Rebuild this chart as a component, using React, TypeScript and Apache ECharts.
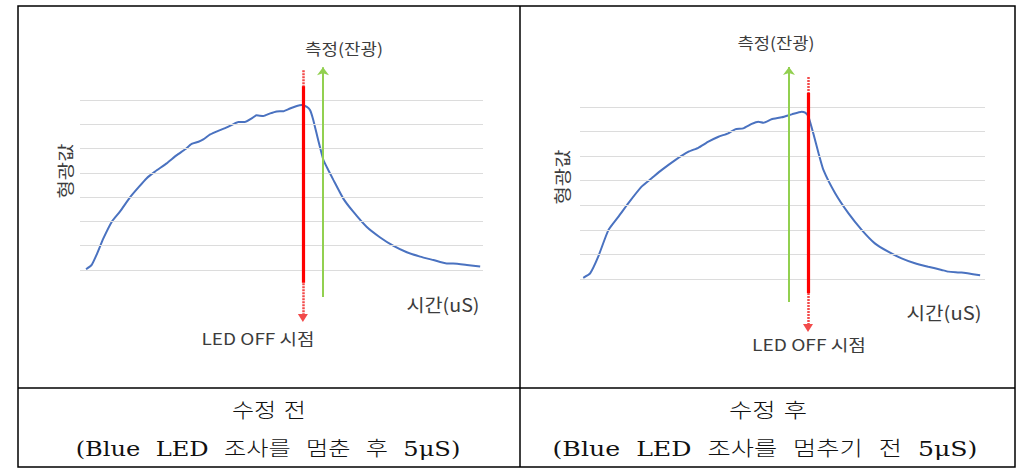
import React, { useEffect, useRef } from "react";
import * as echarts from "echarts";

// ---- data (time in arbitrary µs units 0..100, fluorescence in gridline units) ----
const beforeTime = [1.5, 2.9, 4.1, 5.8, 7.9, 9.9, 12.4, 14.5, 16.5, 18.6, 21.5, 24.0, 26.1, 27.7, 29.4, 30.6, 32.3, 34.3, 36.4, 38.1, 39.3, 40.9, 42.6, 43.8, 45.5, 47.2, 48.8, 50.5, 52.1, 53.8, 55.0, 56.3, 57.1, 57.9, 59.1, 60.4, 61.6, 62.9, 65.3, 67.8, 71.1, 74.4, 77.8, 81.1, 84.4, 87.7, 91.0, 92.6, 96.0, 99.3];
const beforeValue = [0.03, 0.21, 0.62, 1.3, 1.99, 2.4, 2.99, 3.4, 3.77, 4.05, 4.39, 4.73, 4.97, 5.19, 5.28, 5.38, 5.58, 5.73, 5.87, 6.01, 6.09, 6.09, 6.24, 6.37, 6.34, 6.45, 6.53, 6.54, 6.65, 6.75, 6.79, 6.72, 6.58, 6.17, 5.35, 4.53, 4.12, 3.7, 2.95, 2.4, 1.78, 1.35, 0.99, 0.73, 0.55, 0.41, 0.27, 0.27, 0.21, 0.14];

const afterTime = [0.8, 2.5, 4.5, 7.0, 9.5, 11.9, 15.2, 17.7, 20.2, 23.5, 26.8, 29.2, 31.7, 34.2, 36.6, 38.3, 40.3, 42.4, 44.0, 45.3, 47.3, 49.8, 52.3, 54.7, 55.6, 56.4, 57.6, 58.9, 60.1, 63.0, 66.3, 69.6, 72.8, 76.1, 79.4, 82.7, 86.0, 89.3, 91.0, 94.2, 98.8];
const afterValue = [0.05, 0.23, 0.91, 1.99, 2.54, 3.08, 3.76, 4.1, 4.44, 4.84, 5.18, 5.34, 5.59, 5.79, 5.93, 6.09, 6.13, 6.31, 6.4, 6.36, 6.5, 6.58, 6.7, 6.81, 6.77, 6.61, 5.93, 5.12, 4.44, 3.49, 2.67, 1.99, 1.45, 1.11, 0.84, 0.64, 0.5, 0.37, 0.3, 0.26, 0.15];

const gridValues = [0, 1, 2, 3, 4, 5, 6, 7];

// marker positions: [time, dottedTop, solidTop, solidBottom, arrowTip]
const beforeLedOff = [55.3, 8.23, 7.57, -0.53, -1.98];
const beforeMeasure = [60.3, -1.11, 8.35]; // [time, bottom, arrowTip]
const afterLedOff = [56.3, 8.22, 7.57, -0.57, -1.99];
const afterMeasure = [51.6, -0.94, 8.63];

const measureLabel = "측정(잔광)";
const ledOffLabel = "LED OFF 시점";
const xName = "시간(uS)";
const yName = "형광값";
const captionTitles = ["수정 전", "수정 후"];
const captionNotes = ["(Blue  LED  조사를  멈춘  후  5μS)", "(Blue  LED  조사를  멈추기  전  5μS)"];

const SANS = '"Noto Sans CJK KR", "Noto Sans", sans-serif';
const SERIF = '"DejaVu Serif", "Liberation Serif", "Noto Sans CJK KR", serif';
const TEXT = "#3c3c3c";

let measureCtx: CanvasRenderingContext2D | null = null;
function textWidth(text: string, font: string) {
  if (!measureCtx) measureCtx = document.createElement("canvas").getContext("2d");
  measureCtx!.font = font;
  return measureCtx!.measureText(text).width;
}

function seriesFor(idx: number, times: number[], values: number[], led: number[], meas: number[]) {
  const data = times.map((t, i) => [t, values[i]]);
  return [
    {
      type: "line",
      xAxisIndex: idx,
      yAxisIndex: idx,
      data: [],
      z: 1,
      silent: true,
      markLine: {
        silent: true,
        symbol: ["none", "none"],
        label: { show: false },
        lineStyle: { color: "#dcdcdc", width: 1, type: "solid" },
        data: gridValues.map((v) => ({ yAxis: v })),
      },
    },
    {
      type: "line",
      xAxisIndex: idx,
      yAxisIndex: idx,
      data,
      z: 3,
      showSymbol: false,
      symbol: "none",
      smooth: 0.15,
      lineStyle: { color: "#4a72c0", width: 2 },
    },
    {
      type: "line",
      xAxisIndex: idx,
      yAxisIndex: idx,
      data: [],
      z: 5,
      markLine: {
        silent: true,
        label: { show: false },
        z: 5,
        data: [
          [
            { coord: [led[0], led[1]], symbol: "none", lineStyle: { color: "#f24a4a", width: 2.5, type: [2, 1] } },
            { coord: [led[0], led[4]], symbol: "triangle", symbolSize: [10, 8], symbolRotate: 180 },
          ],
          [
            { coord: [led[0], led[2]], symbol: "none", lineStyle: { color: "#ff0000", width: 3.2, type: "solid" } },
            { coord: [led[0], led[3]], symbol: "none" },
          ],
          [
            { coord: [meas[0], meas[1]], symbol: "none", lineStyle: { color: "#92d050", width: 2, type: "solid" } },
            { coord: [meas[0], meas[2]], symbol: "arrow", symbolSize: [9, 8] },
          ],
        ],
      },
    },
  ];
}

export default function App() {
  const ref = useRef<HTMLDivElement>(null);
  useEffect(() => {
    if (!ref.current) return;
    const chart = echarts.init(ref.current, null, { renderer: "svg" });
    const u0 = 170 / 7;
    const u1 = 172 / 7;
    const hiddenAxis = {
      axisLine: { show: false },
      axisTick: { show: false },
      axisLabel: { show: false },
      splitLine: { show: false },
    };
    const label = (text: string, x: number, y: number, size: number, target: number, extra: any = {}) => {
      const font = `${size}px ${SANS}`;
      return {
        type: "text",
        x,
        y,
        silent: true,
        scaleX: target / textWidth(text, font),
        style: { text, fill: TEXT, font, align: "center", verticalAlign: "middle" },
        ...extra,
      };
    };
    const caption = (text: string, x: number, y: number, target: number) => {
      const font = `300 20px ${SERIF}`;
      return {
        type: "text",
        x,
        y,
        silent: true,
        scaleX: target / textWidth(text, font),
        style: { text, fill: "#111", font, align: "center", verticalAlign: "middle" },
      };
    };
    chart.setOption({
      animation: false,
      backgroundColor: "#fff",
      grid: [
        { left: 80, width: 403, top: 100 - 2 * u0, height: 12 * u0 },
        { left: 580, width: 405, top: 107 - 2 * u1, height: 12 * u1 },
      ],
      xAxis: [
        { type: "value", gridIndex: 0, min: 0, max: 100, ...hiddenAxis },
        { type: "value", gridIndex: 1, min: 0, max: 100, ...hiddenAxis },
      ],
      yAxis: [
        { type: "value", gridIndex: 0, min: -3, max: 9, ...hiddenAxis },
        { type: "value", gridIndex: 1, min: -3, max: 9, ...hiddenAxis },
      ],
      series: [
        ...seriesFor(0, beforeTime, beforeValue, beforeLedOff, beforeMeasure),
        ...seriesFor(1, afterTime, afterValue, afterLedOff, afterMeasure),
      ],
      graphic: [
        { type: "rect", silent: true, shape: { x: 18, y: 6, width: 997, height: 461 }, style: { fill: "none", stroke: "#000", lineWidth: 1.5 } },
        { type: "line", silent: true, shape: { x1: 520, y1: 6, x2: 520, y2: 467 }, style: { stroke: "#000", lineWidth: 1.5 } },
        { type: "line", silent: true, shape: { x1: 18, y1: 388, x2: 1015, y2: 388 }, style: { stroke: "#000", lineWidth: 1.5 } },
        label(measureLabel, 344, 48, 16, 78),
        label(ledOffLabel, 258, 338, 16, 113),
        label(xName, 443, 304, 18, 73),
        label(yName, 65, 171, 17, 55, { rotation: Math.PI / 2 }),
        label(measureLabel, 776, 42, 16, 77),
        label(ledOffLabel, 809, 344, 16, 114),
        label(xName, 944, 312, 18, 75),
        label(yName, 562, 177, 17, 55, { rotation: Math.PI / 2 }),
        caption(captionTitles[0], 269, 411, 74),
        caption(captionNotes[0], 268, 449, 385),
        caption(captionTitles[1], 768, 411, 78),
        caption(captionNotes[1], 765, 449, 425),
      ],
    });
    return () => chart.dispose();
  }, []);
  return (
    <div
      ref={ref}
      style={{ position: "absolute", left: 0, top: 0, width: 1025, height: 474 }}
    />
  );
}
